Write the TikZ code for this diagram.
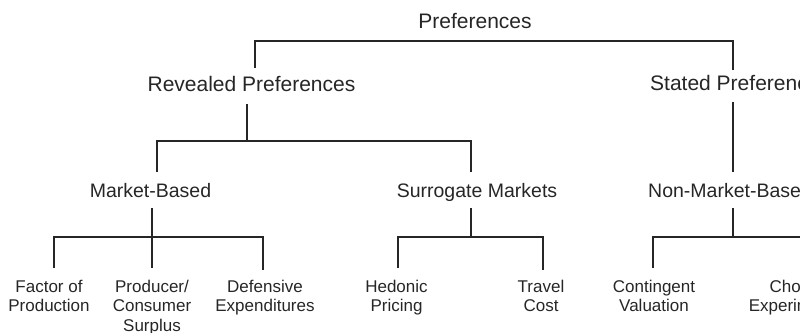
\documentclass[tikz,border=0pt]{standalone}
\usepackage{fontspec}
\setmainfont{Liberation Sans}
\begin{document}
\begin{tikzpicture}[x=1pt,y=-1pt,
  conn/.style={line width=1.3pt, draw=black!85},
  lvltop/.style={font=\fontsize{21}{24}\selectfont, text=black!85, inner sep=0pt, anchor=base},
  lvlmid/.style={font=\fontsize{19.5}{22}\selectfont, text=black!85, inner sep=0pt, anchor=base},
  leaf/.style={font=\fontsize{17}{19.5}\selectfont, text=black!85, inner sep=0pt, align=center, anchor=base},
]
\useasboundingbox (0,0) rectangle (800,332);
\clip (0,0) rectangle (800,332);

% category labels
\node[lvltop] (pref) at (475,28) {Preferences};
\node[lvltop] (rev) at (251.5,91) {Revealed Preferences};
\node[lvltop, anchor=base west] (stat) at (650,90) {Stated Preferences};
\node[lvlmid] (mkt) at (150.5,197) {Market-Based};
\node[lvlmid] (sur) at (477,197) {Surrogate Markets};
\node[lvlmid, anchor=base west] (nmk) at (648,197) {Non-Market-Based};

% methods (base anchor sits on the last line)
\node[leaf] (fop) at (49,311.5) {Factor of\\Production};
\node[leaf] (pcs) at (152,331) {Producer/\\Consumer\\Surplus};
\node[leaf] (def) at (265,311.5) {Defensive\\Expenditures};
\node[leaf] (hed) at (396.5,311.5) {Hedonic\\Pricing};
\node[leaf] (trv) at (541,311.5) {Travel\\Cost};
\node[leaf] (cv) at (654,311.5) {Contingent\\Valuation};
\node[leaf] (ce) at (796,311.5) {Choice\\Experiments};

% connector end points
\coordinate (revTop) at (255,68);
\coordinate (statTop) at (733,70);
\coordinate (revBot) at (247,104);
\coordinate (statBot) at (733,102);
\coordinate (mktTop) at (157,172);
\coordinate (surTop) at (471,172);
\coordinate (nmkTop) at (733,172);
\coordinate (mktBot) at (152,208);
\coordinate (surBot) at (471,208);
\coordinate (nmkBot) at (733,208);
\coordinate (fopTop) at (54,268);
\coordinate (pcsTop) at (152,268);
\coordinate (defTop) at (263,270);
\coordinate (hedTop) at (398,268);
\coordinate (trvTop) at (543,270);
\coordinate (cvTop) at (653,268);
\coordinate (ceTop) at (813,268);

% tree connectors
\draw[conn] (revTop) -- ++(0,-27) -| (statTop);
\draw[conn] (mktTop) -- ++(0,-31) -| (surTop);
\draw[conn] (revBot) -- ++(0,37);
\draw[conn] (statBot) -- (nmkTop);
\draw[conn] (fopTop) -- ++(0,-31) -| (defTop);
\draw[conn] (mktBot) -- (pcsTop);
\draw[conn] (hedTop) -- ++(0,-31) -| (trvTop);
\draw[conn] (surBot) -- ++(0,29);
\draw[conn] (cvTop) -- ++(0,-31) -| (ceTop);
\draw[conn] (nmkBot) -- ++(0,29);
\end{tikzpicture}
\end{document}
